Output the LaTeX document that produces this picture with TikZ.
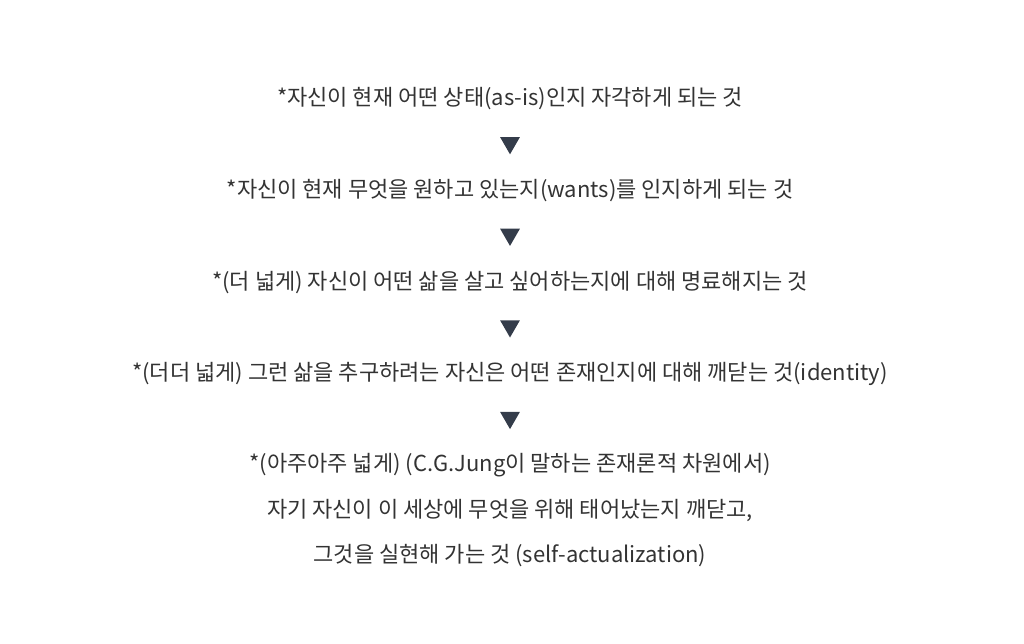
\documentclass[tikz,border=0pt]{standalone}
\usepackage{fontspec}
\setmainfont{Noto Sans CJK KR}
\usepackage{tikz}
\usetikzlibrary{positioning}
\usetikzlibrary{shapes.geometric}
\definecolor{textgray}{HTML}{333333}
\definecolor{arrowslate}{HTML}{343C4A}

\begin{document}
\begin{tikzpicture}[
            x = 1pt, y = -1pt,
            node distance = 45.8pt, % distance between centres
            font = \fontsize{22}{26}\selectfont
        ]

        \tikzstyle{step text}=[
            text = textgray,
            inner sep = 0pt
        ]
        \tikzstyle{down mark}=[
            regular polygon,
            regular polygon sides = 3,
            shape border rotate = 180,
            fill = arrowslate,
            draw = none,
            inner sep = 0pt,
            minimum size = 23pt
        ]

        \useasboundingbox (0,0) rectangle (1024,644);

	% stages
        \node[step text] (S1) at (510,99) {*자신이 현재 어떤 상태(as-is)인지 자각하게 되는 것};
        \node[down mark] (D1) [below of=S1, yshift=2pt] {};
        \node[step text] (S2) [below of=S1, node distance=91.6pt] {*자신이 현재 무엇을 원하고 있는지(wants)를 인지하게 되는 것};
        \node[down mark] (D2) [below of=S2, yshift=2pt] {};
        \node[step text] (S3) [below of=S2, node distance=91.6pt] {*(더 넓게) 자신이 어떤 삶을 살고 싶어하는지에 대해 명료해지는 것};
        \node[down mark] (D3) [below of=S3, yshift=2pt] {};
        \node[step text] (S4) [below of=S3, node distance=91.6pt] {*(더더 넓게) 그런 삶을 추구하려는 자신은 어떤 존재인지에 대해 깨닫는 것(identity)};
        \node[down mark] (D4) [below of=S4, yshift=2pt] {};

         % last stage
         \node[step text] (S5) [below of=S4, node distance=91.6pt] {*(아주아주 넓게) (C.G.Jung이 말하는 존재론적 차원에서)};
         \node[step text] (S6) [below of=S5, node distance=45pt] {자기 자신이 이 세상에 무엇을 위해 태어났는지 깨닫고,};
         \node[step text] (S7) [below of=S6, node distance=45pt] {그것을 실현해 가는 것 (self-actualization)};

  \end{tikzpicture}
\end{document}
